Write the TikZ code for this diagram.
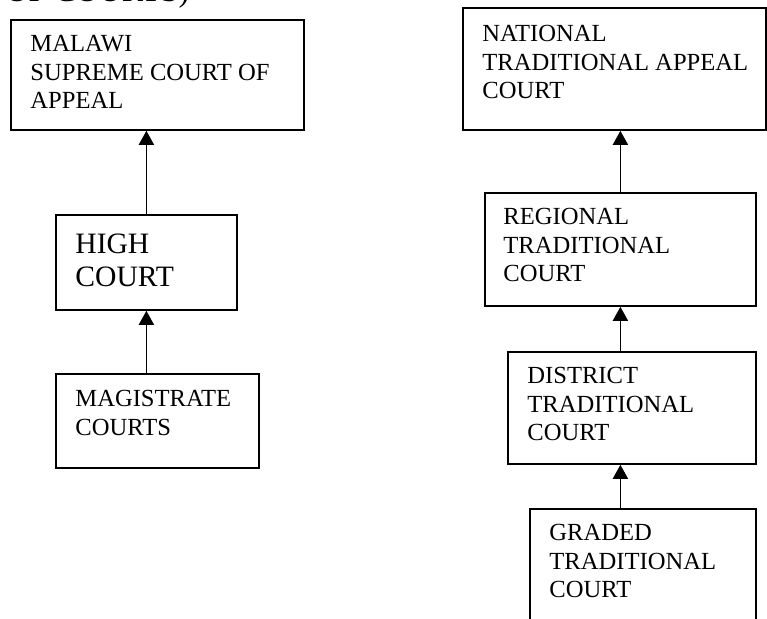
\documentclass[tikz,border=0pt]{standalone}
\usepackage{fontspec}
\setmainfont{Liberation Serif}
\usetikzlibrary{arrows.meta,calc}
\tikzstyle{line} = [draw, line width=0.9pt, -{Triangle[width=7.5pt,length=7pt]}]
\tikzstyle{block} = [draw, rectangle, line width=0.9pt, anchor=north west, inner sep=0pt]
\tikzstyle{txt} = [anchor=north west, inner sep=0pt, align=left, font=\fontsize{12.3}{14.2}\selectfont]
\begin{document}
\begin{tikzpicture}[x=0.5pt, y=-0.5pt]
        \useasboundingbox (0,0) rectangle (767,618);
        \clip (0,0) rectangle (767,618);
        \node[anchor=base west, inner sep=0pt, font=\fontsize{16}{18}\selectfont] (title) at (5,1) {OF COURTS)};
        % ordinary courts
        \node[block, minimum width=146.5pt, minimum height=55pt] (supreme) at (10,19) {};
        \node[block, minimum width=90.5pt, minimum height=47.5pt] (high) at (55,214) {};
        \node[block, minimum width=101.5pt, minimum height=47pt] (magistrate) at (55,373) {};
        \node[txt] (supremetext) at (30,35) {MALAWI\\SUPREME COURT OF\\APPEAL};
        \node[txt, font=\fontsize{14.8}{16.7}\selectfont] (hightext) at (75,233) {HIGH\\COURT};
        \node[txt] (magistratetext) at (75,390) {MAGISTRATE\\COURTS};
        % traditional courts
        \node[block, minimum width=151.5pt, minimum height=61pt] (national) at (462,7) {};
        \node[block, minimum width=135.5pt, minimum height=56.5pt] (regional) at (484,192) {};
        \node[block, minimum width=124pt, minimum height=56pt] (district) at (507,351) {};
        \node[block, minimum width=113pt, minimum height=65pt] (graded) at (529,508) {};
        \node[txt] (nationaltext) at (482,25) {NATIONAL\\TRADITIONAL APPEAL\\COURT};
        \node[txt] (regionaltext) at (503,208) {REGIONAL\\TRADITIONAL\\COURT};
        \node[txt] (districttext) at (527,367) {DISTRICT\\TRADITIONAL\\COURT};
        \node[txt] (gradedtext) at (549,524) {GRADED\\TRADITIONAL\\COURT};
        % appeals
        \path[line] (high.north -| high.south) -- (supreme.south -| high.south);
        \path[line] (magistrate.north -| high.south) -- (high.south);
        \path[line] (regional.north) -- (regional.north |- national.south);
        \path[line] (district.north -| regional.south) -- (regional.south);
        \path[line] (graded.north -| regional.south) -- (regional.south |- district.south);
    \end{tikzpicture}
\end{document}
